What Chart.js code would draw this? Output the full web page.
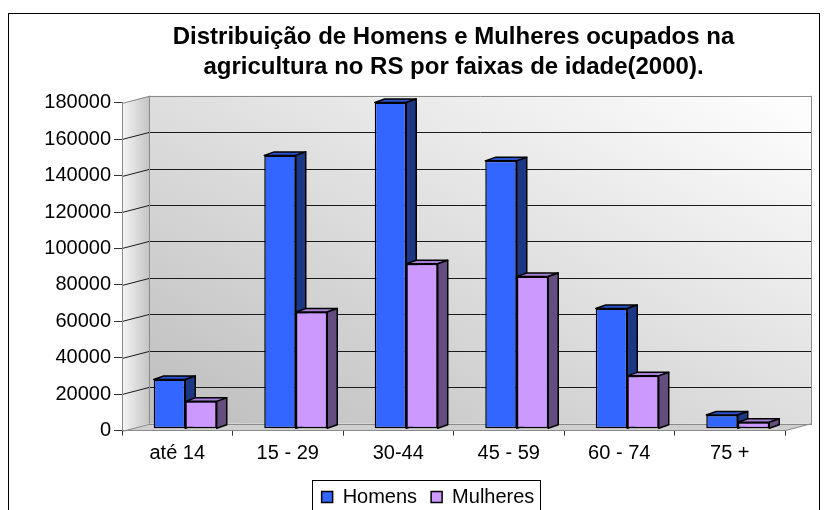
<!DOCTYPE html>
<html>
<head>
<meta charset="utf-8">
<script src="https://cdn.jsdelivr.net/npm/chart.js@4.4.1/dist/chart.umd.min.js"></script>
<style>
  html, body { margin: 0; padding: 0; background: #fff; }
  #wrap { width: 827px; height: 510px; }
</style>
</head>
<body>
<div id="wrap"><canvas id="myChart" width="827" height="510"></canvas></div>
<script>
const categories = ['até 14', '15 - 29', '30-44', '45 - 59', '60 - 74', '75 +'];
const homens = [27000, 150000, 179000, 147000, 66000, 7500];
const mulheres = [15000, 64000, 90500, 83500, 29000, 3500];
const yMax = 180000;
const yStep = 20000;

// depth of the walls and of the bars (Excel-like 3D look)
const wallDx = 27, wallDy = -7;
const barDx = 10, barDy = -3.5;
const barShiftX = 8, barShiftY = -2;

const faceColors = [
  { top: '#2a52cc', side: '#1c3784' },
  { top: '#a77fd6', side: '#654d80' }
];

function drawFaces(ctx, meta, c) {
  ctx.lineWidth = 1.5;
  ctx.strokeStyle = '#000';
  ctx.lineJoin = 'round';
  meta.data.forEach(bar => {
    const p = bar.getProps(['x', 'y', 'base', 'width'], true);
    const l = p.x - p.width / 2, r = p.x + p.width / 2;
    ctx.fillStyle = c.top;
    ctx.beginPath();
    ctx.moveTo(l, p.y);
    ctx.lineTo(l + barDx, p.y + barDy);
    ctx.lineTo(r + barDx, p.y + barDy);
    ctx.lineTo(r, p.y);
    ctx.closePath();
    ctx.fill();
    ctx.stroke();
    ctx.fillStyle = c.side;
    ctx.beginPath();
    ctx.moveTo(r, p.y);
    ctx.lineTo(r + barDx, p.y + barDy);
    ctx.lineTo(r + barDx, p.base + barDy);
    ctx.lineTo(r, p.base);
    ctx.closePath();
    ctx.fill();
    ctx.stroke();
  });
}

const box3d = {
  id: 'box3d',
  beforeDraw(chart) {
    const ctx = chart.ctx;
    const a = chart.chartArea;
    const y = chart.scales.y;
    ctx.save();
    ctx.fillStyle = '#fff';
    ctx.fillRect(0, 0, chart.width, chart.height);

    // back wall, shaded from bottom-left (grey) to top-right (white)
    const bl = a.left + wallDx, br = a.right + wallDx;
    const bt = a.top + wallDy, bb = a.bottom + wallDy;
    const w = br - bl, h = bb - bt;
    const k = 2 * w * h / (w * w + h * h);
    const g = ctx.createLinearGradient(bl, bb, bl + k * h, bb - k * w);
    g.addColorStop(0, '#bdbdbd');
    g.addColorStop(1, '#ffffff');
    ctx.fillStyle = g;
    ctx.fillRect(bl, bt, w, h);

    // left wall
    const lg = ctx.createLinearGradient(a.left, 0, bl, 0);
    lg.addColorStop(0, '#f6f6f6');
    lg.addColorStop(1, '#c4c4c4');
    ctx.fillStyle = lg;
    ctx.beginPath();
    ctx.moveTo(a.left, a.top);
    ctx.lineTo(bl, bt);
    ctx.lineTo(bl, bb);
    ctx.lineTo(a.left, a.bottom);
    ctx.closePath();
    ctx.fill();

    // floor
    ctx.fillStyle = '#cfcfcf';
    ctx.beginPath();
    ctx.moveTo(a.left, a.bottom);
    ctx.lineTo(a.right, a.bottom);
    ctx.lineTo(br, bb);
    ctx.lineTo(bl, bb);
    ctx.closePath();
    ctx.fill();

    // grid lines on the walls
    ctx.lineWidth = 1;
    y.ticks.forEach(t => {
      const py = Math.round(y.getPixelForValue(t.value)) + 0.5;
      const edge = t.value === 0 || t.value === yMax;
      ctx.strokeStyle = edge ? '#8a8a8a' : '#1a1a1a';
      ctx.beginPath();
      ctx.moveTo(a.left, py);
      ctx.lineTo(bl, py + wallDy);
      ctx.lineTo(br, py + wallDy);
      ctx.stroke();
    });

    // wall edges
    ctx.strokeStyle = '#8a8a8a';
    ctx.beginPath();
    ctx.moveTo(bl + 0.5, bt);
    ctx.lineTo(bl + 0.5, bb);
    ctx.moveTo(br - 0.5, bt);
    ctx.lineTo(br - 0.5, bb);
    ctx.lineTo(a.right, a.bottom);
    ctx.stroke();
    ctx.restore();
  },
  beforeDatasetDraw(chart) {
    chart.ctx.save();
    chart.ctx.translate(barShiftX, barShiftY);
  },
  afterDatasetDraw(chart) {
    chart.ctx.restore();
  },
  afterDatasetsDraw(chart) {
    // Homens is painted last by Chart.js; add its faces, then repaint Mulheres in front
    const ctx = chart.ctx;
    ctx.save();
    ctx.translate(barShiftX, barShiftY);
    drawFaces(ctx, chart.getDatasetMeta(0), faceColors[0]);
    const m = chart.getDatasetMeta(1);
    m.data.forEach(bar => bar.draw(ctx));
    drawFaces(ctx, m, faceColors[1]);
    ctx.restore();
  },
  afterDraw(chart) {
    const ctx = chart.ctx;
    ctx.save();
    ctx.strokeStyle = '#000';
    ctx.lineWidth = 1;
    ctx.strokeRect(8.5, 13.5, 811, 530);
    const hb = chart.legend.legendHitBoxes;
    if (hb && hb.length) {
      const left = Math.min(...hb.map(h => h.left)) - 10;
      const right = Math.max(...hb.map(h => h.left + h.width)) + 5;
      const top = Math.min(...hb.map(h => h.top)) - 7;
      ctx.strokeRect(Math.round(left) + 0.5, Math.round(top) + 0.5, Math.round(right - left), 60);
    }
    ctx.restore();
  }
};

new Chart('myChart', {
  type: 'bar',
  data: {
    labels: categories,
    datasets: [{
      label: 'Homens',
      data: homens,
      backgroundColor: '#3366ff',
      borderColor: '#000',
      borderWidth: 1.5,
      borderSkipped: false,
      clip: false
    }, {
      label: 'Mulheres',
      data: mulheres,
      backgroundColor: '#cc99ff',
      borderColor: '#000',
      borderWidth: 1.5,
      borderSkipped: false,
      clip: false
    }]
  },
  options: {
    responsive: false,
    animation: false,
    categoryPercentage: 0.57,
    barPercentage: 1,
    layout: { padding: { top: 21.75, left: 29, right: 0, bottom: -7 } },
    scales: {
      x: {
        grid: { drawOnChartArea: false, tickLength: 5, color: '#333', offset: true },
        border: { color: '#8a8a8a' },
        ticks: { color: '#000', padding: 6, font: { family: 'Liberation Sans', size: 20 } },
        afterFit: (s) => { s.height = 42.3; }
      },
      y: {
        min: 0,
        max: yMax,
        grid: { drawOnChartArea: false, tickLength: 8, color: '#333' },
        border: { color: '#8a8a8a' },
        ticks: {
          stepSize: yStep,
          color: '#000',
          padding: 3,
          font: { family: 'Liberation Sans', size: 20 },
          callback: (v) => String(v)
        },
        afterFit: (s) => { s.width = 93; }
      },
      // empty right axis, only reserves the space of the 3D depth
      depth: {
        type: 'linear',
        position: 'right',
        display: true,
        grid: { display: false },
        border: { display: false },
        ticks: { display: false },
        afterFit: (s) => { s.width = 42; }
      }
    },
    plugins: {
      tooltip: { enabled: false },
      title: {
        display: true,
        fullSize: false,
        text: ['Distribuição de Homens e Mulheres ocupados na', 'agricultura no RS por faixas de idade(2000).'],
        color: '#000',
        font: { family: 'Liberation Sans', size: 24, weight: 'bold', lineHeight: 1.27 },
        padding: { top: 0, bottom: 20 }
      },
      legend: {
        position: 'bottom',
        labels: {
          boxWidth: 11,
          boxHeight: 11,
          padding: 14,
          color: '#000',
          font: { family: 'Liberation Sans', size: 20 },
          sort: (a, b) => a.datasetIndex - b.datasetIndex
        }
      }
    }
  },
  plugins: [box3d]
});
</script>
</body>
</html>
